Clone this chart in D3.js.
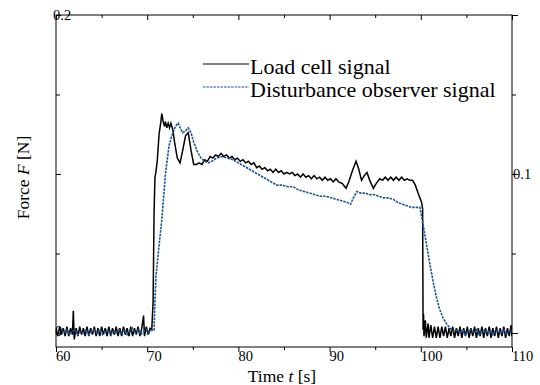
<!DOCTYPE html>
<html><head><meta charset="utf-8">
<script src="https://cdn.jsdelivr.net/npm/d3@7"></script>
<style>body{margin:0;background:#fff}svg{display:block}text{font-family:"Liberation Serif","Times New Roman",serif;fill:#000}</style>
</head><body><svg id="c" width="540" height="385"></svg>
<script>
const xTicks = [60,65,70,75,80,85,90,95,100,105,110];
const xLabels = [60,70,80,90,100,110];
const yTicks = [0,0.05,0.1,0.15,0.2];
const seriesNames = ["Load cell signal","Disturbance observer signal"];
const loadCell = [[60.0,0.003],[60.2,-0.002],[60.4,0.004],[60.6,-0.001],[60.8,0.003],[61.0,-0.002],[61.2,0.004],[61.4,-0.002],[61.6,0.003],[61.8,-0.001],[61.9,0.014],[62.0,-0.004],[62.2,0.003],[62.4,-0.002],[62.6,0.004],[62.8,-0.001],[63.0,0.003],[63.2,-0.002],[63.4,0.004],[63.6,-0.002],[63.8,0.003],[64.0,-0.001],[64.2,0.004],[64.4,-0.002],[64.6,0.003],[64.8,-0.002],[65.0,0.004],[65.2,-0.001],[65.4,0.003],[65.6,-0.002],[65.8,0.004],[66.0,-0.002],[66.2,0.003],[66.4,-0.001],[66.6,0.004],[66.8,-0.002],[67.0,0.003],[67.2,-0.002],[67.4,0.004],[67.6,-0.001],[67.8,0.003],[68.0,-0.002],[68.2,0.004],[68.4,-0.002],[68.6,0.003],[68.8,-0.001],[69.0,0.004],[69.2,-0.002],[69.4,0.003],[69.6,0.011],[69.7,-0.002],[69.9,0.004],[70.1,-0.001],[70.3,0.003],[70.5,0.002],
[70.65,0.02],[70.75,0.075],[70.85,0.098],[70.95,0.101],[71.1,0.108],[71.3,0.125],[71.5,0.133],[71.6,0.138],[71.75,0.133],[71.9,0.13],[72.0,0.133],[72.15,0.129],[72.3,0.132],[72.45,0.129],[72.6,0.132],[72.8,0.128],[73.0,0.12],[73.3,0.11],[73.6,0.107],[73.9,0.115],[74.2,0.124],[74.5,0.126],[74.8,0.115],[75.1,0.106],[75.4,0.106],[75.7,0.107],[76.0,0.106],[76.3,0.109],[76.6,0.108],[76.9,0.111],[77.2,0.11],[77.5,0.112],[77.8,0.111],[78.1,0.113],[78.4,0.111],[78.7,0.112],[79.0,0.11],[79.3,0.111],[79.6,0.109],[79.9,0.11],[80.2,0.108],[80.5,0.109],[80.8,0.107],[81.1,0.108],[81.4,0.106],[81.7,0.107],[82.0,0.104],[82.3,0.105],[82.6,0.103],[82.9,0.104],[83.2,0.102],[83.5,0.103],[83.8,0.101],[84.1,0.103],[84.4,0.101],[84.7,0.102],[85.0,0.1],[85.3,0.101],[85.6,0.1],[85.9,0.101],[86.2,0.099],[86.5,0.1],[86.8,0.098],[87.1,0.1],[87.4,0.098],[87.7,0.099],[88.0,0.097],[88.3,0.099],[88.6,0.097],[88.9,0.098],[89.2,0.096],[89.5,0.098],[89.8,0.096],[90.1,0.097],[90.4,0.095],[90.7,0.097],[91.0,0.095],[91.4,0.094],[91.8,0.091],[92.1,0.095],[92.5,0.102],[92.9,0.108],[93.2,0.103],[93.5,0.096],[93.8,0.099],[94.1,0.101],[94.4,0.096],[94.8,0.091],[95.1,0.094],[95.5,0.097],[95.8,0.096],[96.1,0.098],[96.4,0.096],[96.7,0.098],[97.0,0.096],[97.3,0.098],[97.6,0.096],[97.9,0.098],[98.2,0.096],[98.5,0.097],[98.8,0.096],[99.1,0.096],[99.4,0.093],[99.7,0.088],[99.9,0.085],[100.1,0.082],[100.2,0.078],[100.25,0.002],
[100.3,0.012],[100.35,-0.002],[100.5,0.008],[100.6,-0.003],[100.8,0.006],[100.9,-0.003],[101.1,0.005],[101.3,-0.003],[101.5,0.004],[101.7,-0.003],[101.9,0.004],[102.1,-0.003],[102.3,0.004],[102.5,-0.002],[102.7,0.004],[102.9,-0.003],[103.1,0.003],[103.3,-0.002],[103.5,0.004],[103.7,-0.003],[103.9,0.003],[104.1,-0.002],[104.3,0.004],[104.5,-0.003],[104.7,0.003],[104.9,-0.002],[105.1,0.004],[105.3,-0.003],[105.5,0.003],[105.7,-0.002],[105.9,0.004],[106.1,-0.003],[106.3,0.003],[106.5,-0.002],[106.7,0.004],[106.9,-0.003],[107.1,0.003],[107.3,-0.002],[107.5,0.004],[107.7,-0.003],[107.9,0.003],[108.1,-0.002],[108.3,0.004],[108.5,-0.003],[108.7,0.003],[108.9,-0.002],[109.1,0.004],[109.3,-0.003],[109.5,0.003],[109.7,-0.002],[109.9,0.005],[110.0,-0.002]];
const observer = [[60.0,0.001],[60.3,-0.001],[60.6,0.002],[60.9,0.0],[61.2,0.002],[61.5,-0.001],[61.8,0.001],[62.1,0.002],[62.4,-0.001],[62.7,0.001],[63.0,0.0],[63.3,0.002],[63.6,-0.001],[63.9,0.001],[64.2,0.002],[64.5,0.0],[64.8,0.002],[65.1,-0.001],[65.4,0.001],[65.7,0.002],[66.0,-0.001],[66.3,0.001],[66.6,0.0],[66.9,0.002],[67.2,0.0],[67.5,0.002],[67.8,-0.001],[68.1,0.001],[68.4,0.003],[68.7,0.0],[69.0,0.002],[69.3,-0.001],[69.6,0.001],[69.9,0.002],[70.2,0.0],[70.5,0.002],[70.75,0.002],
[70.85,0.02],[70.95,0.035],[71.3,0.055],[71.6,0.071],[72.0,0.1],[72.4,0.118],[72.7,0.124],[73.1,0.13],[73.4,0.132],[73.7,0.128],[73.9,0.126],[74.2,0.127],[74.5,0.129],[74.8,0.126],[75.1,0.12],[75.5,0.114],[75.9,0.11],[76.3,0.108],[76.7,0.107],[77.1,0.108],[77.6,0.11],[78.2,0.111],[78.8,0.11],[79.4,0.109],[80.0,0.107],[80.6,0.105],[81.2,0.103],[81.8,0.101],[82.4,0.099],[83.0,0.097],[83.6,0.095],[84.2,0.093],[84.8,0.093],[85.4,0.092],[86.0,0.092],[86.6,0.09],[87.2,0.089],[87.8,0.088],[88.4,0.087],[89.0,0.086],[89.6,0.086],[90.2,0.085],[90.8,0.084],[91.4,0.083],[92.0,0.082],[92.3,0.081],[92.6,0.085],[93.0,0.089],[93.4,0.088],[93.9,0.088],[94.4,0.087],[94.9,0.087],[95.4,0.086],[95.9,0.085],[96.4,0.085],[97.0,0.084],[97.5,0.082],[98.0,0.081],[98.5,0.08],[99.0,0.079],[99.5,0.079],[99.9,0.079],[100.2,0.07],[100.5,0.06],[100.8,0.05],[101.1,0.04],[101.4,0.031],[101.7,0.023],[102.0,0.016],[102.4,0.01],[102.8,0.006],[103.2,0.003],[103.7,0.001],[104.0,0.002],[104.3,0.0],[104.6,0.002],[104.9,-0.001],[105.2,0.001],[105.5,0.002],[105.8,0.0],[106.1,0.002],[106.4,-0.001],[106.7,0.001],[107.0,0.002],[107.3,0.0],[107.6,0.002],[107.9,-0.001],[108.2,0.001],[108.5,0.002],[108.8,0.0],[109.1,0.002],[109.4,-0.001],[109.7,0.001],[110.0,0.002]];

const svg = d3.select("#c");
const L = 56, R = 512, T = 15, B = 347;
const x = d3.scaleLinear().domain([60,110]).range([L,R]);
const y = d3.scaleLinear().domain([-0.0088,0.2]).range([B,T]);

svg.append("defs").append("clipPath").attr("id","clip").append("rect")
  .attr("x",L).attr("y",T).attr("width",R-L).attr("height",B-T);

const line = d3.line().x(d=>x(d[0])).y(d=>y(d[1]));
const g = svg.append("g").attr("clip-path","url(#clip)");
g.append("path").datum(loadCell).attr("d",line).attr("fill","none").attr("stroke","#000").attr("stroke-width",1.5).attr("stroke-linejoin","miter");
g.append("path").datum(observer).attr("d",line).attr("fill","none").attr("stroke","#1b5799").attr("stroke-width",1.6).attr("stroke-dasharray","2.5,1");

function styleAx(sel, majorTest, major, minor){
  sel.select(".domain").remove();
  sel.selectAll(".tick line").attr("stroke","#000").each(function(d){
    const m = majorTest(d) ? major : minor;
    const l = d3.select(this);
    if (l.attr("y2") !== null && +l.attr("y2") !== 0) l.attr("y2", +l.attr("y2") > 0 ? m : -m);
    if (l.attr("x2") !== null && +l.attr("x2") !== 0) l.attr("x2", +l.attr("x2") > 0 ? m : -m);
  });
  sel.selectAll(".tick text").remove();
}
const isMajX = d => d % 10 === 0;
const isMajY = d => Math.abs(Math.round(d*10) - d*10) < 1e-6;
svg.append("g").attr("transform",`translate(0,${B})`).call(d3.axisBottom(x).tickValues(xTicks).tickSize(-5)).call(s=>styleAx(s,isMajX,-5,-3));
svg.append("g").attr("transform",`translate(0,${T})`).call(d3.axisTop(x).tickValues(xTicks).tickSize(-5)).call(s=>styleAx(s,isMajX,5,3));
svg.append("g").attr("transform",`translate(${L},0)`).call(d3.axisLeft(y).tickValues(yTicks).tickSize(-5)).call(s=>styleAx(s,isMajY,5,4));
svg.append("g").attr("transform",`translate(${R},0)`).call(d3.axisRight(y).tickValues(yTicks).tickSize(-5)).call(s=>styleAx(s,isMajY,-6,-4));

svg.append("rect").attr("x",L).attr("y",T).attr("width",R-L).attr("height",B-T).attr("fill","none").attr("stroke","#000").attr("stroke-width",1);

svg.append("g").selectAll("text").data(xLabels).join("text")
  .attr("x",d=>x(d)).attr("y",361).attr("font-size",14.5).text(d=>d);
svg.append("text").attr("x",L-3).attr("y",y(0.2)+5).attr("font-size",14.5).text("0.2");
svg.append("text").attr("x",R+1).attr("y",y(0.1)+5).attr("font-size",14.5).text("0.1");
svg.append("text").attr("x",L-1).attr("y",y(0)+3).attr("font-size",14.5).text("0");

const xt = svg.append("text").attr("x",282).attr("y",382).attr("text-anchor","middle").attr("font-size",17.5);
xt.append("tspan").text("Time ");
xt.append("tspan").attr("font-style","italic").text("t");
xt.append("tspan").text(" [s]");
const yt = svg.append("text").attr("transform","translate(29,177.5) rotate(-90)").attr("text-anchor","middle").attr("font-size",17.5);
yt.append("tspan").text("Force ");
yt.append("tspan").attr("font-style","italic").text("F");
yt.append("tspan").text(" [N]");

const leg = [{y:64, dash:null, color:"#000", w:1.2},{y:87, dash:"2.5,1", color:"#1b5799", w:1.2}];
leg.forEach((d,i)=>{
  svg.append("line").attr("x1",203).attr("x2",249).attr("y1",d.y).attr("y2",d.y)
    .attr("stroke",d.color).attr("stroke-width",d.w).attr("stroke-dasharray",d.dash);
  svg.append("text").attr("x",250).attr("y",d.y+9.5).attr("font-size",22).text(seriesNames[i]);
});
</script></body></html>
